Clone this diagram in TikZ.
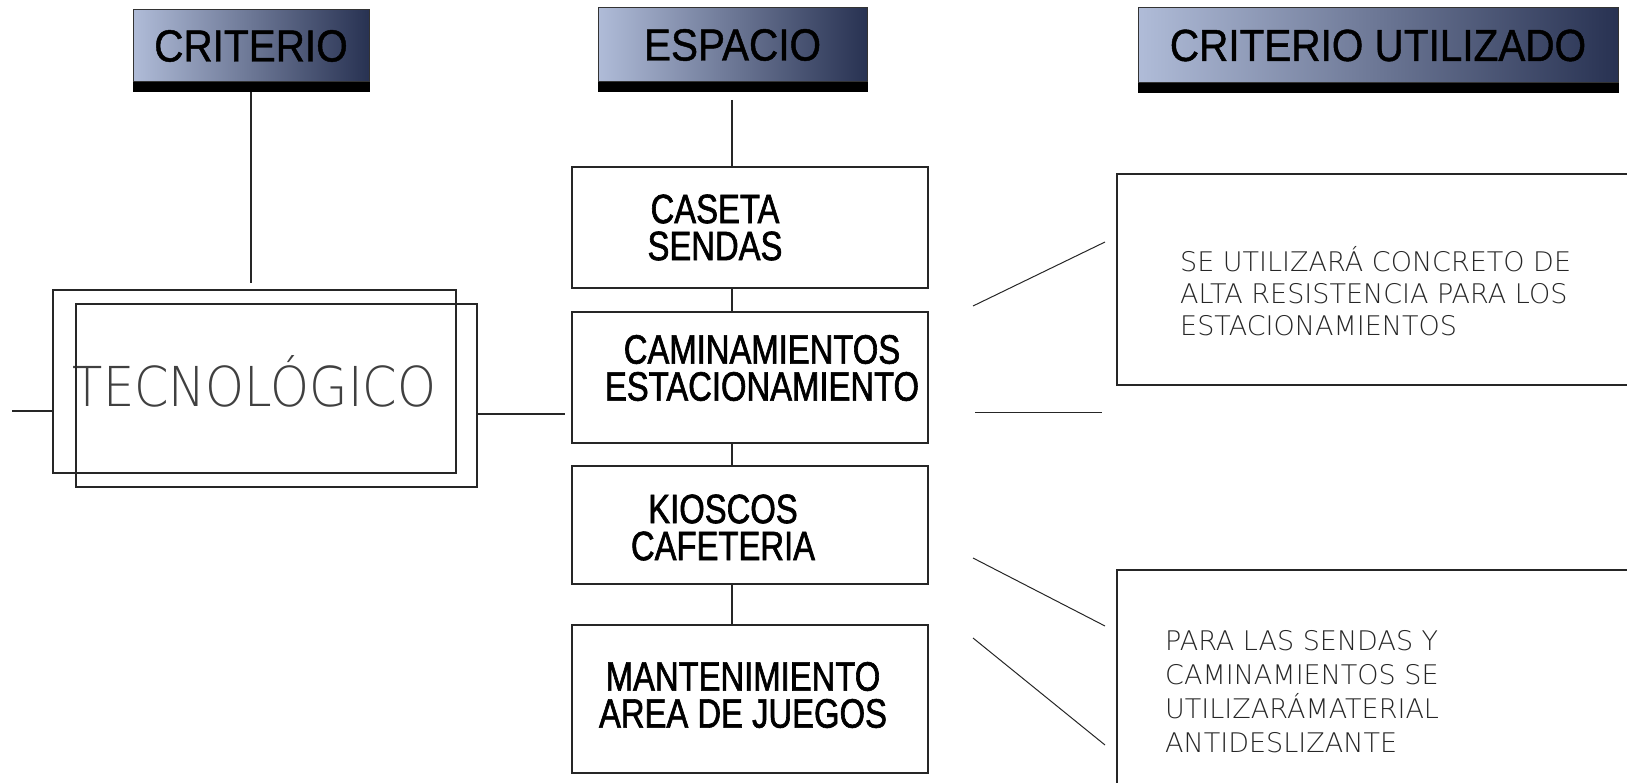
\documentclass[tikz,border=0pt]{standalone}
\usepackage{fontspec}
\setmainfont{Liberation Sans}
\newfontfamily\headfont[FakeStretch=0.9,FakeBold=1]{Liberation Sans}
\newfontfamily\boxfont[FakeStretch=0.8,FakeBold=1.5]{Liberation Sans}
\newfontfamily\thinfont[FakeStretch=0.9]{DejaVu Sans ExtraLight}
\newfontfamily\notefont{DejaVu Sans ExtraLight}

\definecolor{headlight}{RGB}{176,188,216}
\definecolor{headdark}{RGB}{40,50,82}

\tikzset{
  header/.style={draw=black!80, line width=1pt, left color=headlight, right color=headdark,
    font=\headfont\fontsize{45}{50}\selectfont, inner sep=0pt},
  colbox/.style={draw=black!85, line width=1.2pt, minimum width=356pt, inner sep=0pt},
  coltext/.style={align=center, font=\boxfont\fontsize{41}{37}\selectfont, inner sep=0pt},
  notebox/.style={draw=black!85, line width=1.2pt, minimum width=540pt, inner sep=0pt},
  notetext/.style={align=left, anchor=west, inner sep=0pt, text=black!85},
  link/.style={line width=1.2pt, draw=black!85}
}

\begin{document}
\begin{tikzpicture}[x=1pt,y=-1pt]
\useasboundingbox (0,0) rectangle (1627,783);
\clip (0,0) rectangle (1627,783);

% headers
\node[header, minimum width=236pt, minimum height=72pt] (crit) at (251,46) {CRITERIO};
\node[header, minimum width=269pt, minimum height=74pt] (esp) at (732.5,45) {ESPACIO};
\node[header, minimum width=480pt, minimum height=75pt] (util) at (1378,45.5) {CRITERIO UTILIZADO};
\foreach \h in {crit,esp,util}
  \fill[black] (\h.south west) rectangle ([yshift=-10pt]\h.south east);

% criterio
\node[draw=black!85, line width=1.2pt, minimum width=403pt, minimum height=183pt,
  font=\thinfont\fontsize{55}{60}\selectfont, text=black!75] (tecno) at (254.5,381.5) {TECNOLÓGICO};
\node[draw=black!85, line width=1.2pt, minimum width=401pt, minimum height=183pt] (tecnoback) at (276.5,395.5) {};

% espacios
\node[colbox, minimum height=121pt] (caseta) at (750,227.5) {};
\node[colbox, minimum height=131pt] (camin) at (750,377.5) {};
\node[colbox, minimum height=118pt] (kiosco) at (750,525) {};
\node[colbox, minimum height=148pt] (mant) at (750,699) {};

\node[coltext] (casetaT) at ([xshift=-35pt]caseta.center) {CASETA\\SENDAS};
\node[coltext] (caminT) at ([xshift=12pt,yshift=9.5pt]camin.center) {CAMINAMIENTOS\\ESTACIONAMIENTO};
\node[coltext] (kioscoT) at ([xshift=-27pt,yshift=-2.5pt]kiosco.center) {KIOSCOS\\CAFETERIA};
\node[coltext] (mantT) at ([xshift=-7pt,yshift=4pt]mant.center) {MANTENIMIENTO\\AREA DE JUEGOS};

% criterios utilizados
\node[notebox, minimum height=211pt] (nota1) at (1387,279.5) {};
\node[notebox, minimum height=240pt] (nota2) at (1387,690) {};
\node[notetext, font=\notefont\fontsize{27}{32}\selectfont] (nota1T) at (1180,291)
  {SE UTILIZARÁ CONCRETO DE\\ALTA RESISTENCIA PARA LOS\\ESTACIONAMIENTOS};
\node[notetext, font=\notefont\fontsize{27}{34}\selectfont] (nota2T) at (1165,692)
  {PARA LAS SENDAS Y\\CAMINAMIENTOS SE\\UTILIZARÁMATERIAL\\ANTIDESLIZANTE};

% connectors
\coordinate (critEnd) at (251,283);
\coordinate (leftEnd) at (12,411);
\coordinate (rightEnd) at (565,414);
\coordinate (espEnd) at (732,100);
\coordinate (spine) at (732,0);
\draw[link] ([yshift=-10pt]crit.south) -- (critEnd);
\draw[link] (leftEnd) -- (leftEnd -| tecno.west);
\draw[link] (rightEnd -| tecnoback.east) -- (rightEnd);
\draw[link] (espEnd) -- (espEnd |- caseta.north);
\draw[link] (caseta.south -| spine) -- (camin.north -| spine);
\draw[link] (camin.south -| spine) -- (kiosco.north -| spine);
\draw[link] (kiosco.south -| spine) -- (mant.north -| spine);

\coordinate (a1) at (973,306); \coordinate (b1) at (1105,242);
\coordinate (a2) at (975,412); \coordinate (b2) at (1102,412);
\coordinate (a3) at (973,558); \coordinate (b3) at (1105,626);
\coordinate (a4) at (973,638); \coordinate (b4) at (1105,745);
\foreach \i in {1,...,4}
  \draw[line width=1pt, draw=black!85] (a\i) -- (b\i);
\end{tikzpicture}
\end{document}
